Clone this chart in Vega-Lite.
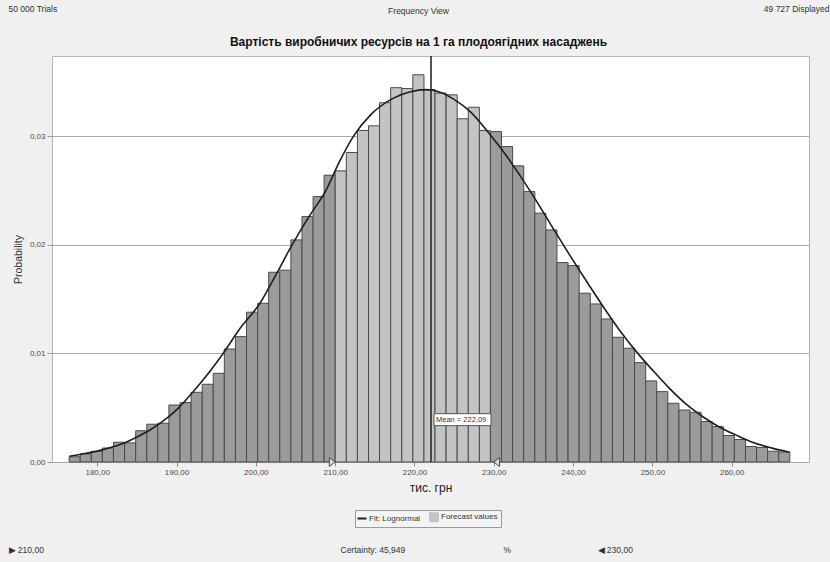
{
  "$schema": "https://vega.github.io/schema/vega-lite/v6.json",
  "width": 757,
  "height": 406,
  "autosize": {"type": "none"},
  "padding": {"left": 52, "top": 56, "right": 21, "bottom": 100},
  "background": "#f0f0f0",
  "config": {
    "locale": {"number": {"decimal": ",", "thousands": " ", "grouping": [3], "currency": ["", ""]}},
    "font": "Liberation Sans",
    "view": {"fill": "white", "stroke": "#b4b4b4"},
    "axis": {"labelFont": "Liberation Sans", "titleFont": "Liberation Sans"},
    "legend": {"labelFont": "Liberation Sans"},
    "title": {"font": "Liberation Sans", "subtitleFont": "Liberation Sans"},
    "text": {"font": "Liberation Sans"}
  },
  "title": {
    "text": "Frequency View",
    "subtitle": "Вартість виробничих ресурсів на 1 га плодоягідних насаджень",
    "fontSize": 8.5,
    "fontWeight": "normal",
    "color": "#333333",
    "subtitleFontSize": 12,
    "subtitleFontWeight": "bold",
    "subtitleColor": "#111111",
    "subtitlePadding": 22,
    "anchor": "middle",
    "dx": -12,
    "offset": -44
  },
  "datasets": {
    "bins": [
      {"lo": 176.46, "hi": 177.86, "p": 0.00048},
      {"lo": 177.86, "hi": 179.26, "p": 0.00075},
      {"lo": 179.26, "hi": 180.65, "p": 0.00098},
      {"lo": 180.65, "hi": 182.05, "p": 0.00129},
      {"lo": 182.05, "hi": 183.45, "p": 0.00182},
      {"lo": 183.45, "hi": 184.85, "p": 0.00176},
      {"lo": 184.85, "hi": 186.25, "p": 0.00288},
      {"lo": 186.25, "hi": 187.64, "p": 0.00348},
      {"lo": 187.64, "hi": 189.04, "p": 0.00357},
      {"lo": 189.04, "hi": 190.44, "p": 0.00525},
      {"lo": 190.44, "hi": 191.84, "p": 0.00547},
      {"lo": 191.84, "hi": 193.24, "p": 0.00642},
      {"lo": 193.24, "hi": 194.63, "p": 0.00716},
      {"lo": 194.63, "hi": 196.03, "p": 0.00817},
      {"lo": 196.03, "hi": 197.43, "p": 0.01041},
      {"lo": 197.43, "hi": 198.83, "p": 0.01155},
      {"lo": 198.83, "hi": 200.23, "p": 0.0138},
      {"lo": 200.23, "hi": 201.62, "p": 0.01462},
      {"lo": 201.62, "hi": 203.02, "p": 0.01748},
      {"lo": 203.02, "hi": 204.42, "p": 0.01767},
      {"lo": 204.42, "hi": 205.82, "p": 0.02046},
      {"lo": 205.82, "hi": 207.22, "p": 0.02261},
      {"lo": 207.22, "hi": 208.61, "p": 0.02445},
      {"lo": 208.61, "hi": 210.01, "p": 0.02642},
      {"lo": 210.01, "hi": 211.41, "p": 0.02682},
      {"lo": 211.41, "hi": 212.81, "p": 0.02851},
      {"lo": 212.81, "hi": 214.21, "p": 0.03054},
      {"lo": 214.21, "hi": 215.6, "p": 0.03097},
      {"lo": 215.6, "hi": 217.0, "p": 0.0331},
      {"lo": 217.0, "hi": 218.4, "p": 0.03448},
      {"lo": 218.4, "hi": 219.8, "p": 0.0344},
      {"lo": 219.8, "hi": 221.2, "p": 0.03567},
      {"lo": 221.2, "hi": 222.59, "p": 0.03429},
      {"lo": 222.59, "hi": 223.99, "p": 0.03398},
      {"lo": 223.99, "hi": 225.39, "p": 0.03382},
      {"lo": 225.39, "hi": 226.79, "p": 0.03162},
      {"lo": 226.79, "hi": 228.19, "p": 0.03268},
      {"lo": 228.19, "hi": 229.58, "p": 0.03053},
      {"lo": 229.58, "hi": 230.98, "p": 0.03044},
      {"lo": 230.98, "hi": 232.38, "p": 0.02906},
      {"lo": 232.38, "hi": 233.78, "p": 0.02728},
      {"lo": 233.78, "hi": 235.18, "p": 0.02491},
      {"lo": 235.18, "hi": 236.57, "p": 0.02292},
      {"lo": 236.57, "hi": 237.97, "p": 0.02138},
      {"lo": 237.97, "hi": 239.37, "p": 0.01837},
      {"lo": 239.37, "hi": 240.77, "p": 0.01809},
      {"lo": 240.77, "hi": 242.17, "p": 0.01555},
      {"lo": 242.17, "hi": 243.56, "p": 0.01456},
      {"lo": 243.56, "hi": 244.96, "p": 0.01318},
      {"lo": 244.96, "hi": 246.36, "p": 0.01149},
      {"lo": 246.36, "hi": 247.76, "p": 0.01048},
      {"lo": 247.76, "hi": 249.16, "p": 0.00915},
      {"lo": 249.16, "hi": 250.55, "p": 0.00747},
      {"lo": 250.55, "hi": 251.95, "p": 0.00648},
      {"lo": 251.95, "hi": 253.35, "p": 0.00541},
      {"lo": 253.35, "hi": 254.75, "p": 0.00479},
      {"lo": 254.75, "hi": 256.15, "p": 0.00458},
      {"lo": 256.15, "hi": 257.54, "p": 0.00373},
      {"lo": 257.54, "hi": 258.94, "p": 0.00326},
      {"lo": 258.94, "hi": 260.34, "p": 0.00244},
      {"lo": 260.34, "hi": 261.74, "p": 0.00207},
      {"lo": 261.74, "hi": 263.14, "p": 0.00143},
      {"lo": 263.14, "hi": 264.53, "p": 0.00134},
      {"lo": 264.53, "hi": 265.93, "p": 0.00099},
      {"lo": 265.93, "hi": 267.33, "p": 0.00092}
    ],
    "fit": [
      {"v": 176.5, "p": 0.00053},
      {"v": 178.0, "p": 0.00072},
      {"v": 180.0, "p": 0.001},
      {"v": 182.0, "p": 0.0014},
      {"v": 183.5, "p": 0.00178},
      {"v": 185.0, "p": 0.0023},
      {"v": 186.65, "p": 0.00295},
      {"v": 188.0, "p": 0.0036},
      {"v": 190.0, "p": 0.0048},
      {"v": 192.1, "p": 0.00648},
      {"v": 194.0, "p": 0.00815},
      {"v": 195.9, "p": 0.01002},
      {"v": 198.0, "p": 0.0123},
      {"v": 200.5, "p": 0.0146},
      {"v": 202.5, "p": 0.0172},
      {"v": 204.5, "p": 0.0199},
      {"v": 206.7, "p": 0.0226},
      {"v": 208.9, "p": 0.0251},
      {"v": 210.5, "p": 0.0276},
      {"v": 212.3, "p": 0.03},
      {"v": 214.5, "p": 0.032},
      {"v": 217.3, "p": 0.0335},
      {"v": 219.5, "p": 0.0341},
      {"v": 221.5, "p": 0.0343},
      {"v": 223.5, "p": 0.034},
      {"v": 225.0, "p": 0.0334},
      {"v": 227.0, "p": 0.0323},
      {"v": 229.7, "p": 0.03},
      {"v": 231.5, "p": 0.0283},
      {"v": 233.3, "p": 0.0264},
      {"v": 235.5, "p": 0.0239},
      {"v": 237.5, "p": 0.0215},
      {"v": 239.8, "p": 0.0188},
      {"v": 242.0, "p": 0.0163},
      {"v": 244.0, "p": 0.0141},
      {"v": 246.0, "p": 0.012},
      {"v": 248.4, "p": 0.0098},
      {"v": 250.1, "p": 0.0084},
      {"v": 252.0, "p": 0.0069},
      {"v": 254.3, "p": 0.0053},
      {"v": 256.5, "p": 0.0041},
      {"v": 258.5, "p": 0.0032},
      {"v": 260.5, "p": 0.0025},
      {"v": 262.7, "p": 0.0018},
      {"v": 265.0, "p": 0.0013},
      {"v": 267.3, "p": 0.0009}
    ],
    "stats": [{"mean": 222.09, "label": "Mean = 222,09"}],
    "bounds": [{"bound": 210}, {"bound": 230}]
  },
  "layer": [
    {
      "data": {"name": "bins"},
      "mark": {"type": "bar", "stroke": "#4a4a4a", "strokeWidth": 1, "opacity": 1},
      "encoding": {
        "x": {
          "field": "lo", "type": "quantitative",
          "scale": {"domain": [174.3, 269.75], "nice": false, "zero": false},
          "axis": {
            "orient": "bottom",
            "values": [180, 190, 200, 210, 220, 230, 240, 250, 260],
            "format": ".2f", "grid": false, "domain": false,
            "tickSize": 4, "tickColor": "#8c8c8c",
            "labelFontSize": 8, "labelColor": "#4a4a4a", "labelPadding": 2,
            "title": "тис. грн", "titleFontSize": 12, "titleFontWeight": "normal",
            "titleColor": "#222222", "titlePadding": 6
          }
        },
        "x2": {"field": "hi"},
        "y": {
          "field": "p", "type": "quantitative",
          "scale": {"domain": [0, 0.0374], "nice": false},
          "axis": {
            "orient": "left",
            "values": [0, 0.01, 0.02, 0.03], "format": ".2f",
            "grid": true, "gridColor": "#ababab", "gridWidth": 1.2, "domain": false,
            "tickSize": 5, "tickColor": "#9a9a9a",
            "labelFontSize": 8, "labelColor": "#4a4a4a", "labelPadding": 2,
            "title": "Probability", "titleFontSize": 10.5, "titleFontWeight": "normal",
            "titleColor": "#333333", "titlePadding": 6
          }
        },
        "y2": {"datum": 0},
        "color": {
          "datum": "Forecast values", "type": "nominal",
          "condition": {"test": "datum.lo < 210 || datum.hi > 230", "value": "#9b9b9b"},
          "scale": {"domain": ["Fit: Lognormal", "Forecast values"], "range": ["#1e1e1e", "#c3c3c3"]},
          "legend": {
            "orient": "none", "legendX": 303, "legendY": 454,
            "direction": "horizontal", "title": null,
            "strokeColor": "#9a9a9a", "fillColor": "#f4f4f4", "padding": 3,
            "labelFontSize": 8, "labelColor": "#333333", "symbolSize": 80,
            "columnPadding": 6, "labelOffset": 3,
            "symbolStrokeColor": "#555555", "symbolStrokeWidth": 1,
            "encode": {
              "symbols": {
                "update": {
                  "shape": {"signal": "datum.value === 'Fit: Lognormal' ? 'stroke' : 'square'"},
                  "fill": {"signal": "datum.value === 'Fit: Lognormal' ? 'transparent' : '#c4c4c4'"},
                  "stroke": {"signal": "datum.value === 'Fit: Lognormal' ? '#1e1e1e' : '#5a5a5a'"},
                  "strokeWidth": {"signal": "datum.value === 'Fit: Lognormal' ? 2 : 1"}
                }
              }
            }
          }
        }
      }
    },
    {
      "data": {"name": "fit"},
      "mark": {"type": "line", "interpolate": "monotone", "strokeWidth": 1.6},
      "encoding": {
        "x": {
          "field": "v", "type": "quantitative",
          "axis": {
            "orient": "top", "labels": false, "ticks": false, "domain": false, "grid": false,
            "title": "50 000 Trials", "titleX": -44, "titleY": -48,
            "titleAlign": "left", "titleBaseline": "middle",
            "titleFontSize": 8.5, "titleFontWeight": "normal", "titleColor": "#333333"
          }
        },
        "y": {
          "field": "p", "type": "quantitative",
          "axis": {
            "orient": "right", "labels": false, "ticks": false, "domain": false, "grid": false,
            "title": "49 727 Displayed", "titleAngle": 0, "titleX": 20, "titleY": -48,
            "titleAlign": "right", "titleBaseline": "middle",
            "titleFontSize": 8.5, "titleFontWeight": "normal", "titleColor": "#333333"
          }
        },
        "color": {
          "datum": "Fit: Lognormal", "type": "nominal",
          "legend": {
            "orient": "none", "legendX": 303, "legendY": 454,
            "direction": "horizontal", "title": null,
            "strokeColor": "#9a9a9a", "fillColor": "#f4f4f4", "padding": 3,
            "labelFontSize": 8, "labelColor": "#333333", "symbolSize": 80,
            "columnPadding": 6, "labelOffset": 3,
            "symbolStrokeColor": "#555555", "symbolStrokeWidth": 1,
            "encode": {
              "symbols": {
                "update": {
                  "shape": {"signal": "datum.value === 'Fit: Lognormal' ? 'stroke' : 'square'"},
                  "fill": {"signal": "datum.value === 'Fit: Lognormal' ? 'transparent' : '#c4c4c4'"},
                  "stroke": {"signal": "datum.value === 'Fit: Lognormal' ? '#1e1e1e' : '#5a5a5a'"},
                  "strokeWidth": {"signal": "datum.value === 'Fit: Lognormal' ? 2 : 1"}
                }
              }
            }
          }
        }
      }
    },
    {
      "data": {"name": "stats"},
      "mark": {"type": "rule", "color": "#2a2a2a", "strokeWidth": 1.6},
      "encoding": {
        "x": {
          "field": "mean", "type": "quantitative",
          "axis": {
            "orient": "bottom",
            "labels": false, "ticks": false, "domain": false, "grid": false,
            "title": "▶  210,00", "titleX": -44, "titleY": 87,
            "titleAlign": "left", "titleBaseline": "middle",
            "titleFontSize": 8.5, "titleFontWeight": "normal", "titleColor": "#333333"
          }
        }
      }
    },
    {
      "data": {"name": "bounds"},
      "mark": {"type": "point", "filled": true, "size": 80, "fill": "#dadada", "stroke": "#4d4d4d", "strokeWidth": 1, "opacity": 1},
      "encoding": {
        "x": {
          "field": "bound", "type": "quantitative",
          "axis": {
            "orient": "bottom",
            "labels": false, "ticks": false, "domain": false, "grid": false,
            "title": "Certainty:  45,949", "titleX": 288, "titleY": 87,
            "titleAlign": "left", "titleBaseline": "middle",
            "titleFontSize": 8.5, "titleFontWeight": "normal", "titleColor": "#333333"
          }
        },
        "y": {"datum": 0, "type": "quantitative", "axis": null},
        "shape": {
          "condition": {"test": "datum.bound < 220", "value": "M-1.3,-1L0,0L-1.3,1Z"},
          "value": "M1.3,-1L0,0L1.3,1Z"
        }
      }
    },
    {
      "data": {"name": "stats"},
      "mark": {"type": "rect", "fill": "white", "stroke": "#555555", "strokeWidth": 1, "xOffset": 3, "x2Offset": 60, "yOffset": -6, "y2Offset": 6},
      "encoding": {
        "x": {
          "field": "mean", "type": "quantitative",
          "axis": {
            "orient": "bottom",
            "labels": false, "ticks": false, "domain": false, "grid": false,
            "title": "%", "titleX": 451, "titleY": 87,
            "titleAlign": "left", "titleBaseline": "middle",
            "titleFontSize": 8.5, "titleFontWeight": "normal", "titleColor": "#333333"
          }
        },
        "x2": {"field": "mean"},
        "y": {"datum": 0.0039, "type": "quantitative", "axis": null},
        "y2": {"datum": 0.0039}
      }
    },
    {
      "data": {"name": "stats"},
      "mark": {"type": "text", "align": "left", "baseline": "middle", "dx": 5, "fontSize": 7.5, "color": "#333333"},
      "encoding": {
        "x": {
          "field": "mean", "type": "quantitative",
          "axis": {
            "orient": "bottom",
            "labels": false, "ticks": false, "domain": false, "grid": false,
            "title": "◀  230,00", "titleX": 545, "titleY": 87,
            "titleAlign": "left", "titleBaseline": "middle",
            "titleFontSize": 8.5, "titleFontWeight": "normal", "titleColor": "#333333"
          }
        },
        "y": {"datum": 0.0039, "type": "quantitative", "axis": null},
        "text": {"field": "label"}
      }
    }
  ],
  "resolve": {"axis": {"x": "independent", "y": "independent"}}
}
